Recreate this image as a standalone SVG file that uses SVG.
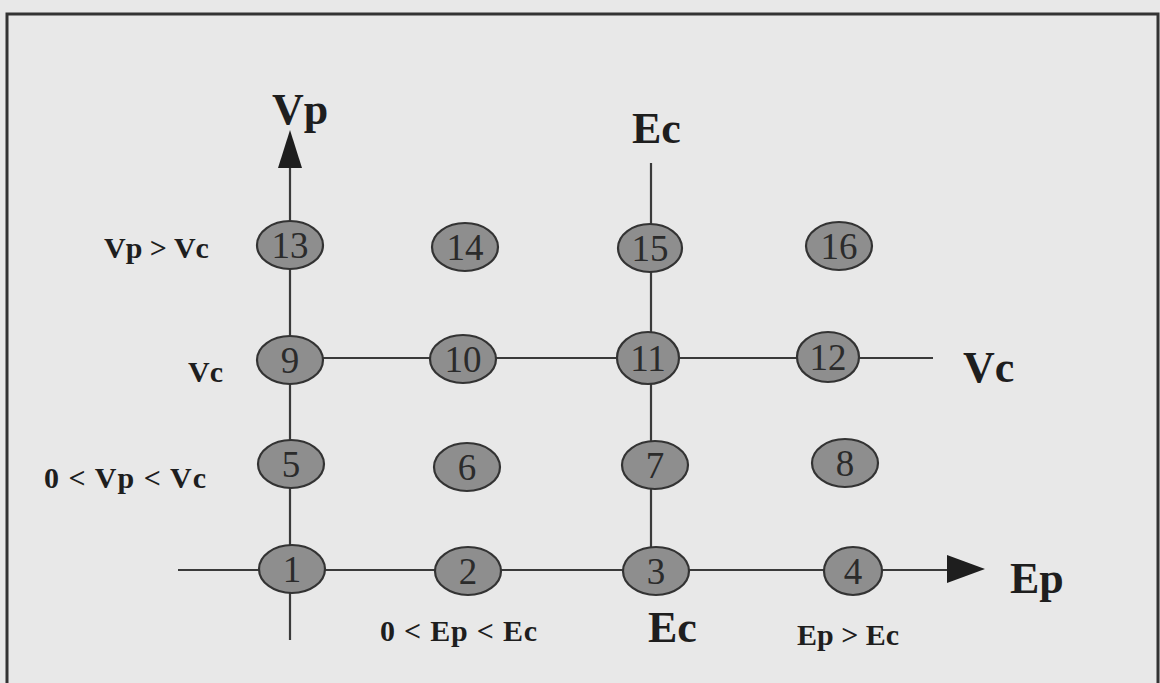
<svg xmlns="http://www.w3.org/2000/svg" width="1160" height="683" viewBox="0 0 1160 683">
<style>
.node ellipse{fill:#8e8e8e;stroke:#333;stroke-width:2.2}
.node text{font-family:"Liberation Serif",serif;font-size:37px;fill:#2b2b2b;text-anchor:middle}
.conn line{stroke:#3a3a3a;stroke-width:2.2}
.conn polygon{fill:#1e1e1e}
.big{font-family:"Liberation Serif",serif;font-weight:bold;font-size:44px;fill:#1e1e1e}
.lab{font-family:"Liberation Serif",serif;font-weight:bold;font-size:30px;fill:#1e1e1e}
</style>
<rect x="0" y="0" width="1160" height="683" fill="#e8e8e8"/>
<rect x="7" y="14" width="1151" height="700" fill="none" stroke="#333" stroke-width="3"/>
<g id="connectors" class="conn">
<line x1="290" y1="166" x2="290" y2="640"/>
<polygon points="290,130 278,168 302,168"/>
<line x1="178" y1="570" x2="949" y2="570"/>
<polygon points="985,569 947,555 947,583"/>
<line x1="290" y1="358" x2="933" y2="358"/>
<line x1="651" y1="163" x2="651" y2="571"/>
</g>
<g id="n1" class="node"><ellipse cx="292" cy="569" rx="33" ry="24"/><text x="292" y="582">1</text></g>
<g id="n2" class="node"><ellipse cx="468" cy="571" rx="33" ry="24"/><text x="468" y="584">2</text></g>
<g id="n3" class="node"><ellipse cx="656" cy="571" rx="33" ry="24"/><text x="656" y="584">3</text></g>
<g id="n4" class="node"><ellipse cx="853" cy="571" rx="29" ry="24"/><text x="853" y="584">4</text></g>
<g id="n5" class="node"><ellipse cx="291" cy="464" rx="33" ry="24"/><text x="291" y="477">5</text></g>
<g id="n6" class="node"><ellipse cx="467" cy="467" rx="33" ry="24"/><text x="467" y="480">6</text></g>
<g id="n7" class="node"><ellipse cx="655" cy="465" rx="33" ry="24"/><text x="655" y="478">7</text></g>
<g id="n8" class="node"><ellipse cx="845" cy="463" rx="33" ry="24"/><text x="845" y="476">8</text></g>
<g id="n9" class="node"><ellipse cx="290" cy="360" rx="33" ry="24"/><text x="290" y="373">9</text></g>
<g id="n10" class="node"><ellipse cx="463" cy="359" rx="33" ry="24"/><text x="463" y="372">10</text></g>
<g id="n11" class="node"><ellipse cx="648" cy="358" rx="31" ry="26"/><text x="648" y="371">11</text></g>
<g id="n12" class="node"><ellipse cx="828" cy="357" rx="31" ry="25"/><text x="828" y="370">12</text></g>
<g id="n13" class="node"><ellipse cx="290" cy="245" rx="33" ry="24"/><text x="290" y="258">13</text></g>
<g id="n14" class="node"><ellipse cx="465" cy="247" rx="33" ry="24"/><text x="465" y="260">14</text></g>
<g id="n15" class="node"><ellipse cx="650" cy="248" rx="32" ry="24"/><text x="650" y="261">15</text></g>
<g id="n16" class="node"><ellipse cx="839" cy="246" rx="33" ry="24"/><text x="839" y="259">16</text></g>
<g id="labels">
<text class="big" x="272" y="124">Vp</text>
<text class="big" x="632" y="143">Ec</text>
<text class="big" x="648" y="642">Ec</text>
<text class="big" x="1010" y="593">Ep</text>
<text class="big" x="963" y="382">Vc</text>
<text class="lab" x="104" y="258">Vp &gt; Vc</text>
<text class="lab" x="188" y="382">Vc</text>
<text class="lab" x="44" y="488" textLength="162">0 &lt; Vp &lt; Vc</text>
<text class="lab" x="380" y="641" textLength="157">0 &lt; Ep &lt; Ec</text>
<text class="lab" x="797" y="645">Ep &gt; Ec</text>
</g>
</svg>
